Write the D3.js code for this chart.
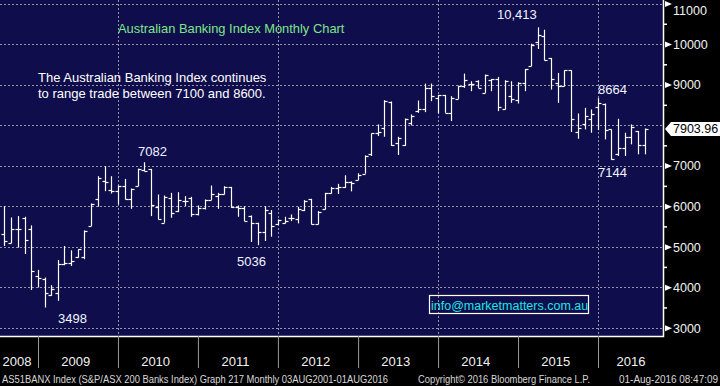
<!DOCTYPE html>
<html>
<head>
<meta charset="utf-8">
<script src="https://cdn.jsdelivr.net/npm/d3@7"></script>
<style>
  body { margin: 0; background: #000; }
  svg { display: block; font-family: "Liberation Sans", Arial, sans-serif; }
</style>
</head>
<body>
<svg id="chart" width="720" height="386"></svg>
<script>
// monthly bars, first bar = Jul 2008, last = Jul 2016
const firstMonth = new Date(2008, 6, 1);
const open  = [5313,5100,5440,5716,5440,4279,4213,3803,3852,4566,4590,4754,4754,5508,6180,6615,6410,6369,6492,6188,
               6492,6885,6918,5984,5590,6205,5877,6123,6205,5795,5943,6148,6262,6311,6475,5984,5943,5754,5574,5361,
               5836,5549,5590,5713,5672,5902,6180,5566,5934,6328,6451,6480,6600,6645,6800,7278,7811,7917,8581,7548,
               7499,8057,8344,8401,8918,8672,8745,8303,8647,8959,9024,9082,8795,9106,9139,8401,8729,8631,9041,9451,
               10041,10205,9656,9041,8959,9352,7827,8016,8155,8450,8532,7893,7278,7442,7712,7852,7499];
const high  = [6000,5720,5754,5738,5525,4426,4238,4049,4672,5016,4910,4934,5401,6066,6738,6984,6738,6508,6672,6434,
               6926,7082,6918,6287,6262,6328,6344,6246,6230,6016,6164,6508,6328,6492,6475,6016,6000,5770,5590,6000,
               5902,5672,5738,5795,5984,6148,6180,5877,6328,6475,6550,6761,6611,6810,7253,7794,8016,8614,8581,7712,
               8163,8262,8606,9024,9024,8745,8745,8713,8975,9270,9082,9106,9246,9139,9188,9106,9082,9057,9385,10008,
               10413,10353,9656,9287,9352,9352,8286,8426,8385,8664,8532,7893,8155,7811,8016,7852,7917];
const low   = [5016,5084,4975,4820,3930,3992,3498,3787,3664,4541,4525,4729,4689,5508,5984,6369,6311,6041,6164,5934,
               6492,6861,5754,5672,5590,5713,5852,6000,5738,5770,5918,6148,5934,6287,5959,5738,5631,5115,5036,5139,
               5246,5533,5574,5631,5574,5877,5549,5549,5918,6311,6300,6450,6365,6645,6800,7237,7729,7712,7483,7261,
               7483,7991,8303,8319,8590,8286,8303,8098,8647,8918,8836,8918,8795,8836,8344,8385,8549,8532,8836,9451,
               9877,9598,8877,8549,8959,7827,7663,7893,7811,7876,7647,7144,7237,7237,7524,7278,7278];
const close = [5148,5440,5426,5170,4402,4238,3852,3951,4566,4607,4648,4934,5385,6057,6697,6590,6369,6492,6188,6426,
               6918,6861,6016,5688,6229,5836,6148,6123,5795,5959,6148,6287,6311,6475,5984,5959,5631,5574,5361,5902,
               5508,5656,5631,5713,5918,6123,5566,5852,6328,6451,6480,6600,6571,6770,7240,7794,7835,8590,7499,7671,
               8155,8221,8401,8918,8729,8745,8303,8672,8975,9123,9024,8918,9229,9139,8450,9082,8647,9041,9385,9984,
               10230,9615,9139,8975,9352,8155,7934,8221,8262,8549,7876,7171,7442,7712,7958,7499,7904];
const lastPrice = 7903.96;

const yGrid = [3000,4000,5000,6000,7000,8000,9000,10000,11000];
const yLabels = [3000,4000,5000,6000,7000,9000,10000,11000]; // 8000 is covered by the last price tag
const yMinor = [3500,4500,5500,6500,7500,8500,9500,10500];
const years = ["2008","2009","2010","2011","2012","2013","2014","2015","2016"];
const gridYears = [2010, 2012, 2014, 2016];

const callouts = [
  {text: "7082",   x: 138, y: 156},
  {text: "3498",   x: 58,  y: 323},
  {text: "5036",   x: 237, y: 266},
  {text: "10,413", x: 497, y: 19},
  {text: "8664",   x: 598, y: 94},
  {text: "7144",   x: 598, y: 177}
];

const W = 720, H = 386;
const plotR = 663, plotB = 336;
const navy = "#0f0d4b";

const svg = d3.select("#chart");
svg.append("rect").attr("width", W).attr("height", H).attr("fill", "#000");
svg.append("rect").attr("width", plotR).attr("height", plotB).attr("fill", navy);

// scales
const x = d3.scaleTime()
  .domain([new Date(2009, 0, 1), new Date(2016, 0, 1)])
  .range([38, 598]);
const y = d3.scaleLinear().domain([3000, 11000]).range([327.7, 3.5]);

const px = v => Math.round(v) + 0.5;

// dashed grid
const grid = svg.append("g").attr("stroke", "#9894a4").attr("stroke-dasharray", "2,2").attr("stroke-width", 1);
grid.selectAll("line.h").data(yGrid).enter().append("line")
  .attr("x1", 0).attr("x2", plotR)
  .attr("y1", d => px(y(d))).attr("y2", d => px(y(d)));
grid.selectAll("line.v").data(gridYears).enter().append("line")
  .attr("y1", 0).attr("y2", plotB)
  .attr("x1", d => px(x(new Date(d, 0, 1)))).attr("x2", d => px(x(new Date(d, 0, 1))));

// OHLC bars (plotted at month end)
const bars = open.map((o, i) => ({
  date: d3.timeMonth.offset(firstMonth, i + 1),
  o: o, h: high[i], l: low[i], c: close[i]
}));
const barG = svg.append("g").attr("stroke", "#fff").attr("stroke-width", 1.2);
const b = barG.selectAll("g").data(bars).enter().append("g")
  .attr("transform", d => `translate(${px(x(d.date))},0)`);
b.append("line").attr("y1", d => y(d.h)).attr("y2", d => y(d.l));
b.append("line").attr("x1", -3).attr("x2", 0)
  .attr("y1", d => px(y(d.o))).attr("y2", d => px(y(d.o)));
b.append("line").attr("x1", 0).attr("x2", 3)
  .attr("y1", d => px(y(d.c))).attr("y2", d => px(y(d.c)));

// plot frame (right + bottom)
svg.append("path")
  .attr("d", `M${plotR + 0.5},0V${plotB + 0.5}H0`)
  .attr("fill", "none").attr("stroke", "#fff").attr("stroke-width", 1.5);

// right axis: minor ticks
const minorAxis = d3.axisRight(y).tickValues(yMinor).tickSize(4).tickFormat("");
svg.append("g").attr("transform", `translate(${plotR},0)`).call(minorAxis)
  .call(g => g.select(".domain").remove())
  .call(g => g.selectAll("line").attr("stroke", "#fff").attr("stroke-width", 1.5));

// right axis: major labels with arrow markers
const majorAxis = d3.axisRight(y).tickValues(yLabels).tickSize(0).tickPadding(10).tickFormat(d3.format("d"));
const ya = svg.append("g").attr("transform", `translate(${plotR},0)`).call(majorAxis);
ya.select(".domain").remove();
ya.selectAll(".tick").each(function (d) {
  const g = d3.select(this);
  g.insert("path", "text").attr("d", "M2,-3L9,0L2,3Z").attr("fill", "#fff");
  g.select("text")
    .attr("fill", "#f2f2f2").attr("font-size", 12.5)
    .attr("font-family", "'Liberation Sans', Arial, sans-serif")
    .attr("dy", y(d) < 8 ? "0.9em" : "0.35em");
});

// last price tag
const ly = y(lastPrice);
svg.append("path")
  .attr("d", `M${plotR + 2},${ly}L${plotR + 8},${ly - 7}H${W}V${ly + 7}H${plotR + 8}Z`)
  .attr("fill", "#fff");
svg.append("text").attr("x", plotR + 10).attr("y", ly + 4.5)
  .attr("font-size", 12.5).attr("fill", "#000").text(d3.format(".2f")(lastPrice));

// bottom axis: year separators and labels
const xa = d3.axisBottom(x).ticks(d3.timeYear.every(1)).tickSize(32).tickFormat("");
svg.append("g").attr("transform", `translate(0,${plotB})`).call(xa)
  .call(g => g.select(".domain").remove())
  .call(g => g.selectAll("line").attr("stroke", "#9a9a9a").attr("stroke-width", 1));
svg.append("g").selectAll("text").data(years).enter().append("text")
  .attr("x", d => {
    if (d === "2008") return 17;
    if (d === "2016") return 631;
    return x(new Date(+d, 6, 1)) - 2;
  })
  .attr("y", 366)
  .attr("text-anchor", "middle")
  .attr("font-size", 13).attr("fill", "#f2f2f2")
  .text(d => d);

// footer
const foot = svg.append("g").attr("font-size", 10).attr("fill", "#d8d8d8");
foot.append("text").attr("x", 2).attr("y", 383).attr("textLength", 386).attr("lengthAdjust", "spacingAndGlyphs")
  .text("AS51BANX Index (S&P/ASX 200 Banks Index) Graph 217  Monthly 03AUG2001-01AUG2016");
foot.append("text").attr("x", 418).attr("y", 383).attr("textLength", 172).attr("lengthAdjust", "spacingAndGlyphs")
  .text("Copyright\u00A9 2016 Bloomberg Finance L.P.");
foot.append("text").attr("x", 619).attr("y", 383).attr("textLength", 99).attr("lengthAdjust", "spacingAndGlyphs")
  .text("01-Aug-2016 08:47:09");

// title + commentary
svg.append("text").attr("x", 118).attr("y", 32.5).attr("font-size", 12.9).attr("fill", "#7fe58a")
  .text("Australian Banking Index Monthly Chart");
const note = svg.append("text").attr("font-size", 13).attr("fill", "#fff");
note.append("tspan").attr("x", 38).attr("y", 82).text("The Australian Banking Index continues");
note.append("tspan").attr("x", 38).attr("y", 97.5).text("to range trade between 7100 and 8600.");

// value callouts
svg.append("g").selectAll("text").data(callouts).enter().append("text")
  .attr("x", d => d.x).attr("y", d => d.y)
  .attr("font-size", 13).attr("fill", "#f0f4ff")
  .text(d => d.text);

// contact box
svg.append("rect").attr("x", 429.5).attr("y", 295.5).attr("width", 159).attr("height", 18)
  .attr("fill", "none").attr("stroke", "#fff").attr("stroke-width", 1.2);
svg.append("text").attr("x", 431).attr("y", 309.5).attr("font-size", 12.5).attr("fill", "#1ee6e6")
  .text("info@marketmatters.com.au");
</script>
</body>
</html>
